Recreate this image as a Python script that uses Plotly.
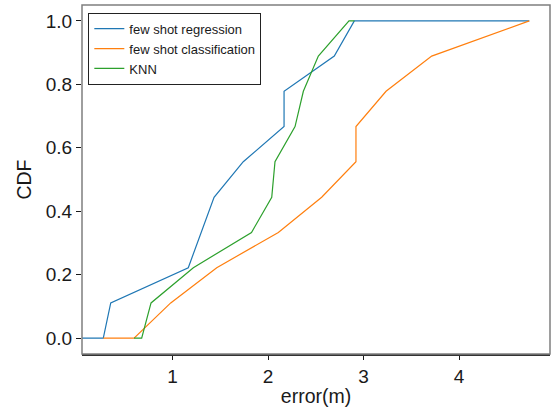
import plotly.graph_objects as go

# Empirical CDF curves of localisation error (metres) for three methods
cdf_levels = [0.0, 0.0, 0.111, 0.222, 0.333, 0.444, 0.556, 0.667, 0.778, 0.889, 1.0]

reg_x = [0.0, 0.275, 0.353, 1.165, 1.435, 1.741, 2.168, 2.168, 2.694, 2.904, 4.736]
reg_y = [0.0, 0.0, 0.111, 0.222, 0.444, 0.556, 0.667, 0.778, 0.889, 1.0, 1.0]

cls_x = [0.275, 0.597, 0.981, 1.463, 2.108, 2.562, 2.921, 2.921, 3.236, 3.714, 4.736]
cls_y = cdf_levels

knn_x = [0.597, 0.677, 0.775, 1.218, 1.827, 2.039, 2.073, 2.283, 2.370, 2.527, 2.848, 2.904]
knn_y = cdf_levels + [1.0]

x_ticks = [1, 2, 3, 4]
y_ticks = [0.0, 0.2, 0.4, 0.6, 0.8, 1.0]

FONT = "Arial, Liberation Sans, sans-serif"

fig = go.Figure()
fig.add_trace(go.Scatter(x=reg_x, y=reg_y, mode="lines", name="few shot regression",
                         line=dict(color="#1f77b4", width=1.2)))
fig.add_trace(go.Scatter(x=cls_x, y=cls_y, mode="lines", name="few shot classification",
                         line=dict(color="#ff7f0e", width=1.2)))
fig.add_trace(go.Scatter(x=knn_x, y=knn_y, mode="lines", name="KNN",
                         line=dict(color="#2ca02c", width=1.2)))

# gray frame around the plotting area
fig.add_shape(type="rect", xref="paper", yref="paper", x0=0, x1=1, y0=0, y1=1,
              line=dict(color="#7f7f7f", width=1.5), layer="above")

fig.update_layout(
    width=553, height=409,
    margin=dict(l=82, r=3, t=5, b=55),
    paper_bgcolor="white", plot_bgcolor="white",
    font=dict(family=FONT, size=19, color="#1a1a1a"),
    showlegend=True,
    legend=dict(x=0.0135, y=0.978, xanchor="left", yanchor="top",
                bgcolor="white", bordercolor="#222222", borderwidth=1,
                font=dict(family=FONT, size=13, color="#1a1a1a"),
                tracegroupgap=0, itemwidth=30),
    xaxis=dict(range=[0.052, 4.953], tickvals=x_ticks, ticks="outside", ticklen=4,
               tickwidth=1.2, tickcolor="#1a1a1a", showgrid=False, zeroline=False,
               showline=True, linecolor="#333333", linewidth=1.5,
               title=dict(text="error(m)", font=dict(size=19.5), standoff=4)),
    yaxis=dict(range=[-0.05, 1.05], tickvals=y_ticks, tickformat=".1f", ticks="outside",
               ticklen=5, tickwidth=1.2, tickcolor="#1a1a1a", showgrid=False,
               zeroline=False, showline=False,
               title=dict(text="CDF", font=dict(size=19.5), standoff=8)),
)

fig.write_html("out.html")
